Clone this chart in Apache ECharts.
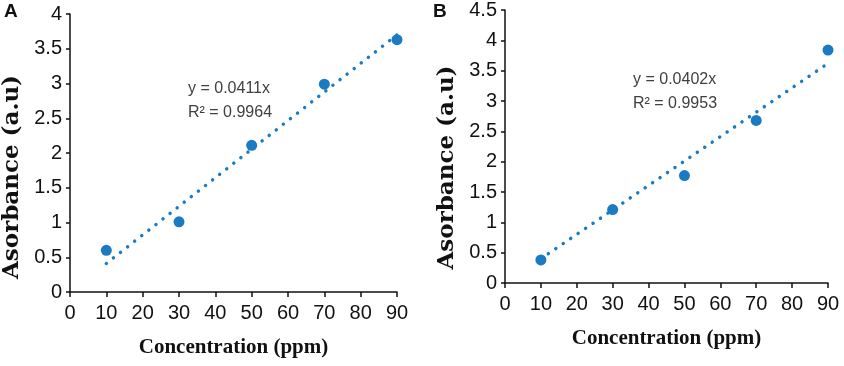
<!DOCTYPE html>
<html lang="en">

<head>
    <meta charset="UTF-8">
    <title>Absorbance calibration</title>
    <script src="https://cdn.jsdelivr.net/npm/echarts@6/dist/echarts.min.js"></script>
    <style>
        body { margin: 0; background: #fff; }
        #chart { width: 844px; height: 366px; }
    </style>
</head>

<body>
    <div id="chart"></div>
    <script>
        // measured points
        var concA = [10, 30, 50, 70, 90];
        var absA = [0.60, 1.01, 2.11, 2.99, 3.63];
        var concB = [10, 30, 50, 70, 90];
        var absB = [0.38, 1.21, 1.77, 2.68, 3.84];
        // trend line end points
        var trendA = [[10, 0.41], [90, 3.70]];
        var trendB = [[10, 0.40], [90, 3.62]];
        var eqA = ['y = 0.0411x', 'R² = 0.9964'];
        var eqB = ['y = 0.0402x', 'R² = 0.9953'];

        var blue = '#1b7bc2';
        var tickFont = 'Liberation Sans';

        function pairs(xs, ys) {
            return xs.map(function (x, i) { return [x, ys[i]]; });
        }

        function xAxis(idx) {
            return {
                gridIndex: idx, type: 'value', min: 0, max: 90, interval: 10,
                name: 'Concentration (ppm)', nameLocation: 'middle', nameGap: 45,
                nameTextStyle: { fontFamily: 'Liberation Serif', fontWeight: 'bold', fontSize: 21, color: '#111' },
                axisLine: { lineStyle: { color: '#111', width: 1.5 } },
                axisTick: { show: true, length: 5, lineStyle: { color: '#111', width: 1.5 } },
                axisLabel: { fontFamily: tickFont, fontSize: 20, color: '#111', margin: 11 },
                splitLine: { show: false }
            };
        }

        function yAxis(idx, max, pad) {
            return {
                gridIndex: idx, type: 'value', min: 0, max: max, interval: 0.5,
                name: 'Asorbance (a.u)', nameLocation: 'middle', nameGap: 46,
                nameTextStyle: { fontFamily: 'DejaVu Serif', fontWeight: 'bold', fontSize: 23, color: '#111', padding: [0, pad, 0, 0] },
                axisLine: { show: true, lineStyle: { color: '#111', width: 1.5 } },
                axisTick: { show: true, length: 4, lineStyle: { color: '#111', width: 1.5 } },
                axisLabel: { fontFamily: tickFont, fontSize: 20, color: '#111', margin: 8 },
                splitLine: { show: false }
            };
        }

        function trend(idx, data) {
            return {
                type: 'line', xAxisIndex: idx, yAxisIndex: idx, data: data,
                symbol: 'none', silent: true, z: 1,
                lineStyle: { color: blue, width: 3.5, type: [0.01, 9], cap: 'round' }
            };
        }

        function points(idx, data) {
            return {
                type: 'scatter', xAxisIndex: idx, yAxisIndex: idx, data: data,
                symbol: 'circle', symbolSize: 11, z: 2,
                itemStyle: { color: blue, opacity: 1 }
            };
        }

        var eqStyle = { fontFamily: tickFont, fontSize: 16, fill: '#404040', lineHeight: 24 };

        var myChart = echarts.init(document.getElementById('chart'));
        myChart.setOption({
            backgroundColor: '#fff',
            animation: false,
            grid: [
                { left: 69, top: 14, width: 328, height: 278 },
                { left: 505, top: 10, width: 323, height: 273 }
            ],
            xAxis: [xAxis(0), xAxis(1)],
            yAxis: [yAxis(0, 4, 48), yAxis(1, 4.5, 42)],
            series: [
                trend(0, trendA), points(0, pairs(concA, absA)),
                trend(1, trendB), points(1, pairs(concB, absB))
            ],
            graphic: [
                { type: 'text', left: 4, top: 2, style: { text: 'A', fontFamily: 'Liberation Sans', fontWeight: 'bold', fontSize: 19, fill: '#111' } },
                { type: 'text', left: 433, top: 2, style: { text: 'B', fontFamily: 'Liberation Sans', fontWeight: 'bold', fontSize: 19, fill: '#111' } },
                { type: 'text', left: 188, top: 77, style: Object.assign({ text: eqA.join('\n') }, eqStyle) },
                { type: 'text', left: 633, top: 68, style: Object.assign({ text: eqB.join('\n') }, eqStyle) }
            ]
        });
    </script>
</body>

</html>
